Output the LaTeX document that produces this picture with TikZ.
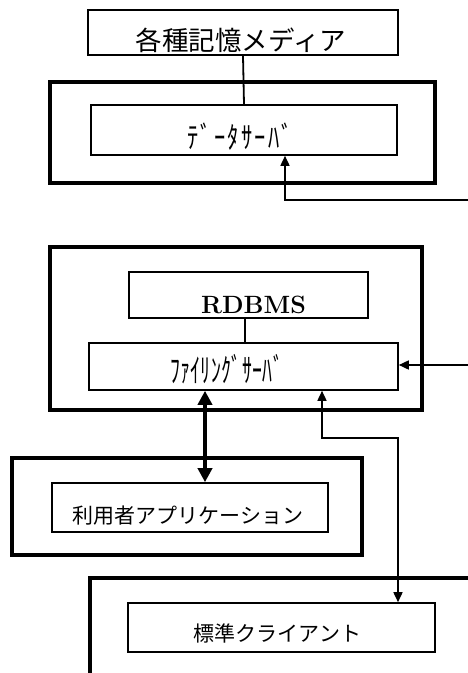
\documentclass[tikz,border=0pt]{standalone}
\usepackage{fontspec}
\newfontfamily\jp{Noto Sans CJK JP}
\newfontfamily\jph[LetterSpace=10]{Noto Sans CJK JP}
\newfontfamily\jphb[LetterSpace=2]{Noto Sans CJK JP}
\usetikzlibrary{arrows.meta,calc}
\tikzset{
  thinbox/.style={draw, line width=1.6pt, inner sep=0pt, fill=white},
  thickbox/.style={draw, line width=3.8pt, inner sep=0pt},
  lbl/.style={inner sep=0pt},
  conn/.style={line width=1.8pt},
  arr/.style={line width=1.6pt, -{Triangle[length=10pt,width=9pt]}},
  darr/.style={line width=1.6pt, {Triangle[length=10pt,width=9pt]}-{Triangle[length=10pt,width=9pt]}},
  bigarr/.style={line width=3.6pt, {Triangle[length=14pt,width=14pt]}-{Triangle[length=14pt,width=14pt]}},
}
\begin{document}
\begin{tikzpicture}[x=1pt,y=-1pt]
\useasboundingbox (0,0) rectangle (468,673);
\begin{scope}
\clip (0,0) rectangle (468,673);
% outer containers
\node[thickbox, minimum width=385pt, minimum height=101pt] (dsout) at (242.5,132.5) {};
\node[thickbox, minimum width=372pt, minimum height=163pt] (fsout) at (236,328.5) {};
\node[thickbox, minimum width=350pt, minimum height=97pt] (apout) at (187,506.5) {};
\draw[line width=3.8pt] (480,578) -- (90,578) -- (90,690);
\coordinate (stdcorner) at (90,578);
% inner boxes
\node[thinbox, minimum width=310pt, minimum height=45pt] (media) at (243,32.5) {};
\node[thinbox, minimum width=306pt, minimum height=50pt] (dsin) at (244,130) {};
\node[thinbox, minimum width=239pt, minimum height=46pt] (rdbms) at (248.5,295) {};
\node[thinbox, minimum width=309pt, minimum height=47pt] (fsin) at (243.5,366.5) {};
\node[thinbox, minimum width=276pt, minimum height=49pt] (apin) at (190,507.5) {};
\node[thinbox, minimum width=307pt, minimum height=49pt] (stdin) at (281.5,627.5) {};
% texts
\node[lbl, font=\jp\fontsize{26.5}{26.5}\selectfont] (mediat) at ($(media.center)+(-2,8)$) {各種記憶メディア};
\node[lbl, font=\jph\fontsize{30}{30}\selectfont] (dsint) at ($(dsin.center)+(-4,7)$) {\scalebox{0.75}[1]{ﾃﾞｰﾀｻｰﾊﾞ}};
\node[lbl, font=\bfseries\fontsize{25}{25}\selectfont] (rdbmst) at ($(rdbms.center)+(5,10)$) {RDBMS};
\node[lbl, font=\jphb\fontsize{33}{33}\selectfont] (fsint) at ($(fsin.center)+(-17,3)$) {\scalebox{0.6}[1]{ﾌｧｲﾘﾝｸﾞｻｰﾊﾞ}};
\node[lbl, font=\jp\fontsize{21}{21}\selectfont] (apint) at ($(apin.center)+(-2,8)$) {利用者アプリケーション};
\node[lbl, font=\jp\fontsize{21}{21}\selectfont] (stdint) at ($(stdin.center)+(-4,6)$) {標準クライアント};
% connectors
\draw[conn] (media.south) -- (dsin.north);
\draw[conn] (rdbms.south -| 245,0) -- (fsin.north -| 245,0);
\coordinate (e1) at (475,200);
\draw[arr] (e1) -| ($(dsin.south)+(41,0)$);
\coordinate (e2) at (475,365);
\draw[arr] (e2) -- (e2 -| fsin.east);
\draw[bigarr] ($(fsin.south)+(-38.5,0)$) -- ($(apin.north)+(15,0)$);
\coordinate (b1) at (322,438);
\coordinate (b2) at (398,438);
\draw[darr] (b1 |- fsin.south) -- (b1) -- (b2) -- (b2 |- stdin.north);
\end{scope}
\end{tikzpicture}
\end{document}
